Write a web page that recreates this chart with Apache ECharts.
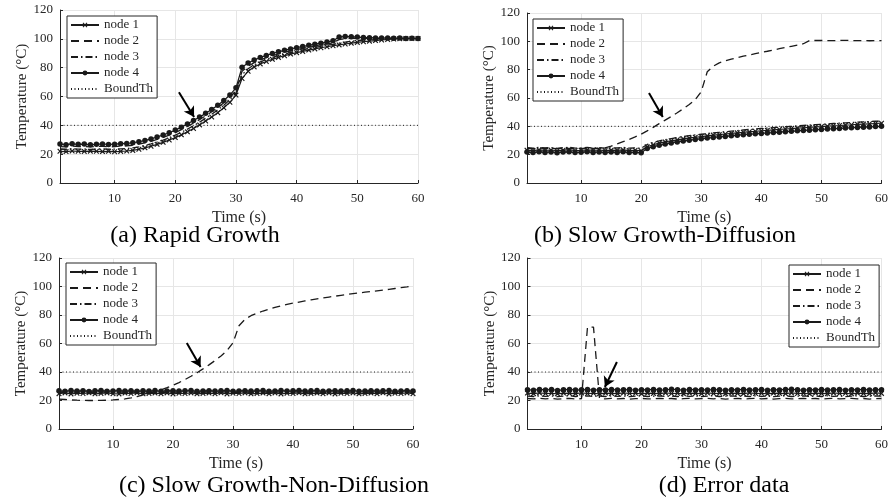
<!DOCTYPE html>
<html><head><meta charset="utf-8">
<script src="https://cdn.jsdelivr.net/npm/echarts@6/dist/echarts.min.js"></script>
<style>html,body{margin:0;padding:0;background:#fff}#c{width:891px;height:502px}</style>
</head><body><div id="c"></div>
<script>
// ---------- data ----------
const time = [1,2,3,4,5,6,7,8,9,10,11,12,13,14,15,16,17,18,19,20,21,22,23,24,25,26,27,28,29,30,
  31,32,33,34,35,36,37,38,39,40,41,42,43,44,45,46,47,48,49,50,51,52,53,54,55,56,57,58,59,60];
const xTicks = [10,20,30,40,50,60];
const seriesNames = ['node 1','node 2','node 3','node 4','BoundTh'];
const captions = ['(a) Rapid Growth','(b) Slow Growth-Diffusion','(c) Slow Growth-Non-Diffusion','(d) Error data'];
const boundTh = 40;

const a_node1 = [22.0,21.8,22.2,22.0,21.9,22.1,22.0,21.8,22.0,21.7,21.9,22.2,
  22.6,23.4,24.4,25.5,26.8,28.2,29.8,31.5,
  33.4,35.5,37.8,40.3,43.0,45.8,48.8,52.2,56.0,61.0,
  72.5,77.5,80.5,82.6,84.3,85.8,87.1,88.3,89.4,90.4,
  91.3,92.2,93.0,93.8,94.5,95.2,95.8,96.4,97.0,97.5,
  98.0,98.4,98.8,99.2,99.6,99.9,100.1,100.2,100.3,100.2];
const a_node2 = [25.3,25.0,25.6,25.2,25.4,25.0,25.3,25.5,25.1,25.2,25.6,25.7,
  26.2,26.9,27.8,28.9,30.2,31.6,33.2,35.0,
  37.0,39.2,41.5,44.0,46.6,49.4,52.4,55.7,59.5,64.0,
  77.5,81.0,83.5,85.3,86.9,88.3,89.5,90.6,91.6,92.5,
  93.4,94.2,95.0,95.8,96.5,97.3,99.5,100.2,100.4,100.4,
  100.3,100.3,100.2,100.3,100.2,100.3,100.2,100.2,100.3,100.2];
const a_node3 = [23.6,23.4,23.8,23.5,23.6,23.3,23.5,23.7,23.4,23.5,23.7,23.9,
  24.4,25.1,26.0,27.1,28.4,29.8,31.4,33.2,
  35.2,37.4,39.7,42.2,44.9,47.7,50.7,54.0,57.8,62.5,
  75.0,79.3,82.0,84.0,85.6,87.1,88.3,89.5,90.5,91.5,
  92.4,93.2,94.0,94.8,95.5,96.2,97.0,97.7,98.3,98.8,
  99.2,99.5,99.8,100.0,100.1,100.2,100.2,100.3,100.2,100.2];
const a_node4 = [27.0,26.6,27.2,26.8,27.0,26.5,26.8,27.1,26.7,26.9,27.3,
  27.4,27.9,28.6,29.5,30.6,31.9,33.3,34.9,36.7,
  38.7,41.0,43.3,45.7,48.3,51.0,54.0,57.2,61.0,66.0,
  80.3,83.2,85.3,87.0,88.5,89.8,91.0,92.0,93.0,93.9,
  94.7,95.5,96.3,97.0,97.8,98.6,101.3,101.6,101.5,101.2,
  100.9,100.8,100.6,100.5,100.6,100.4,100.5,100.3,100.4,100.2];

const b_node1 = [23.2,22.9,23.4,23.0,23.3,22.8,23.2,23.5,22.9,23.1,
  23.4,23.0,23.3,22.9,23.2,23.0,23.4,22.9,23.1,22.8,
  25.6,27.0,28.1,29.0,29.8,30.5,31.2,31.8,32.3,32.8,
  33.3,33.8,34.2,34.6,35.0,35.4,35.8,36.2,36.5,36.9,
  37.2,37.5,37.8,38.1,38.4,38.7,39.0,39.3,39.6,39.8,
  40.1,40.4,40.6,40.9,41.1,41.4,41.6,41.8,42.0,42.2];
const b_node2 = [24.5,24.3,24.6,24.4,24.5,24.2,24.6,24.4,24.5,24.3,
  24.6,24.5,24.4,24.8,26.0,27.6,29.2,30.8,32.5,34.5,
  36.8,39.3,41.9,44.4,46.9,49.6,52.4,55.4,58.8,64.5,
  78.5,82.5,84.8,86.2,87.4,88.5,89.5,90.4,91.3,92.2,
  93.0,93.9,94.8,95.7,96.5,97.3,98.3,100.5,100.6,100.6,
  100.5,100.5,100.6,100.7,100.6,100.5,100.5,100.4,100.5,100.5];
const b_node3 = [24.9,24.6,25.1,24.7,25.0,24.5,24.9,25.2,24.6,24.8,
  25.1,24.7,25.0,24.6,24.9,24.7,25.1,24.6,24.8,24.5,
  27.2,28.6,29.7,30.6,31.4,32.1,32.8,33.4,33.9,34.4,
  34.9,35.4,35.8,36.2,36.6,37.0,37.4,37.8,38.1,38.5,
  38.8,39.1,39.4,39.7,40.0,40.3,40.6,40.9,41.2,41.4,
  41.7,42.0,42.2,42.5,42.7,43.0,43.2,43.4,43.6,43.8];
const b_node4 = [21.8,21.5,22.0,21.6,21.9,21.4,21.8,22.0,21.5,21.7,
  22.0,21.6,21.9,21.5,21.8,21.6,22.0,21.5,21.7,21.3,
  24.3,25.6,26.6,27.5,28.3,29.0,29.6,30.2,30.7,31.2,
  31.7,32.1,32.5,32.9,33.3,33.7,34.1,34.4,34.7,35.0,
  35.3,35.6,35.9,36.2,36.5,36.8,37.1,37.3,37.6,37.8,
  38.1,38.3,38.5,38.8,39.0,39.2,39.4,39.6,39.8,40.0];

const c_node1 = [24.8,25.3,24.6,25.1,24.9,25.4,24.7,25.0,25.3,24.8,
  24.6,25.2,24.9,25.4,24.7,25.0,25.2,24.8,25.3,24.6,
  25.1,24.9,25.3,24.7,25.0,25.2,24.8,25.4,24.6,25.1,
  24.9,25.3,24.7,25.0,25.2,24.8,25.3,24.6,25.1,24.9,
  25.4,24.7,25.0,25.2,24.8,25.3,24.6,25.1,24.9,25.3,
  24.7,25.0,25.2,24.8,25.4,24.6,25.1,24.9,25.3,24.8];
const c_node2 = [21.0,20.7,20.4,20.2,20.1,20.0,20.0,20.1,20.2,20.4,
  20.7,21.1,21.8,22.8,24.0,25.1,26.2,27.5,29.0,30.7,
  32.6,34.7,37.0,39.5,42.2,45.0,48.0,51.3,55.0,60.5,
  72.5,77.0,79.5,81.3,82.8,84.1,85.3,86.4,87.4,88.3,
  89.1,89.9,90.6,91.3,92.0,92.6,93.2,93.8,94.4,95.0,
  95.5,96.0,96.5,97.0,97.5,98.0,98.6,99.2,99.8,100.5];
const c_node3 = [25.9,25.6,26.1,25.7,26.0,25.5,25.9,26.2,25.6,25.8,
  26.1,25.7,26.0,25.6,25.9,25.7,26.1,25.6,25.8,26.0,
  25.7,25.9,26.1,25.6,25.8,26.0,25.7,25.9,26.2,25.6,
  25.8,26.0,25.7,25.9,26.1,25.6,25.8,26.1,25.7,25.9,
  26.2,25.7,25.9,26.1,25.6,25.8,26.0,25.7,25.9,26.1,
  25.6,25.8,26.0,25.7,25.9,26.1,25.6,25.8,26.0,25.7];
const c_node4 = [26.8,26.5,27.0,26.6,26.9,26.4,26.8,27.1,26.5,26.7,
  27.0,26.6,26.9,26.5,26.8,26.6,27.0,26.5,26.7,26.9,
  26.6,26.8,27.0,26.5,26.7,26.9,26.6,26.8,27.1,26.5,
  26.7,26.9,26.6,26.8,27.0,26.5,26.7,27.0,26.6,26.8,
  27.1,26.6,26.8,27.0,26.5,26.7,26.9,26.6,26.8,27.0,
  26.5,26.7,26.9,26.6,26.8,27.0,26.5,26.7,26.9,26.6];

const d_node1 = [25.2,24.8,25.3,24.9,25.1,24.7,25.2,25.0,24.8,25.3,
  24.9,25.1,24.7,25.2,25.0,24.8,25.3,24.9,25.1,24.7,
  25.2,25.0,24.8,25.3,24.9,25.1,24.7,25.2,25.0,24.8,
  25.3,24.9,25.1,24.7,25.2,25.0,24.8,25.3,24.9,25.1,
  24.7,25.2,25.0,24.8,25.3,24.9,25.1,24.7,25.2,25.0,
  24.8,25.3,24.9,25.1,24.7,25.2,25.0,24.8,25.3,25.0];
const d_node2 = [21.4,21.1,21.5,21.2,21.4,21.0,21.3,21.5,21.1,21.3,
  71.5,71.5,21.4,21.1,21.5,21.2,21.4,21.0,21.3,21.5,
  21.1,21.3,21.5,21.2,21.4,21.0,21.3,21.5,21.1,21.3,
  21.5,21.2,21.4,21.0,21.3,21.5,21.1,21.3,21.5,21.2,
  21.4,21.0,21.3,21.5,21.1,21.3,21.5,21.2,21.4,21.0,
  21.3,21.5,21.1,21.3,21.5,21.2,21.4,21.0,21.3,21.4];
const d_node3 = [23.1,22.8,23.3,22.9,23.2,22.7,23.1,23.3,22.8,23.0,
  23.2,22.9,23.1,22.8,23.3,22.9,23.2,22.7,23.1,23.3,
  22.8,23.0,23.2,22.9,23.1,22.8,23.3,22.9,23.2,22.7,
  23.1,23.3,22.8,23.0,23.2,22.9,23.1,22.8,23.3,22.9,
  23.2,22.7,23.1,23.3,22.8,23.0,23.2,22.9,23.1,22.8,
  23.3,22.9,23.2,22.7,23.1,23.3,22.8,23.0,23.2,23.0];
const d_node4 = [27.6,27.2,27.8,27.4,27.7,27.1,27.5,27.8,27.3,27.5,
  27.7,27.2,27.6,27.4,27.8,27.3,27.5,27.7,27.2,27.6,
  27.4,27.8,27.3,27.5,27.9,27.6,27.2,27.8,27.4,27.6,
  27.3,27.7,27.5,27.2,27.6,27.4,27.8,27.3,27.5,27.7,
  27.2,27.6,27.4,27.8,27.9,27.5,27.2,27.6,27.4,27.8,
  27.3,27.5,27.7,27.2,27.6,27.4,27.8,27.3,27.5,27.6];

// arrow annotations (start, end) in data space
const arrowA = [[20.6, 63.0], [23.1, 45.8]];
const arrowB = [[21.3, 63.5], [23.6, 46.6]];
const arrowC = [[22.3, 60.4], [24.6, 43.5]];
const arrowD = [[15.9, 47.0], [13.9, 29.5]];

// ---------- layout / style ----------
const FONT = '"Liberation Serif","Times New Roman",serif';
const INK = '#262626';
const LINE = '#1a1a1a';
const panels = [
  {grid:{left:60, top:10, width:358, height:173}, legend:{left:67, top:16}, cap:[195,235.5],
   nodes:[a_node1,a_node2,a_node3,a_node4], arrow:arrowA},
  {grid:{left:527, top:13, width:355, height:170}, legend:{left:533, top:19}, cap:[665,235.5],
   nodes:[b_node1,b_node2,b_node3,b_node4], arrow:arrowB},
  {grid:{left:59, top:258, width:354, height:171}, legend:{left:66, top:263}, cap:[274,486],
   nodes:[c_node1,c_node2,c_node3,c_node4], arrow:arrowC},
  {grid:{left:527.5, top:258, width:356, height:171}, legend:{left:789, top:265}, cap:[724,486],
   nodes:[d_node1,d_node2,d_node3,d_node4], arrow:arrowD}
];
const X_SYMBOL = 'path://M0,1.5L1.5,0L5,3.5L8.5,0L10,1.5L6.5,5L10,8.5L8.5,10L5,6.5L1.5,10L0,8.5L3.5,5Z';
const nodeStyles = [
  {lineStyle:{type:'solid', width:1.2}, symbol:X_SYMBOL, symbolSize:5.5},
  {lineStyle:{type:[8,5], width:1.3}, symbol:'none'},
  {lineStyle:{type:[7,3,1.5,3], width:1.3}, symbol:'none'},
  {lineStyle:{type:'solid', width:1.2}, symbol:'circle', symbolSize:5.5}
];
const HIDE = {color:'rgba(0,0,0,0)', borderColor:'rgba(0,0,0,0)', borderWidth:0, opacity:0};
const legendData = [
  {name:'node 1'},
  {name:'node 2', itemStyle:HIDE},
  {name:'node 3', itemStyle:HIDE},
  {name:'node 4'},
  {name:'BoundTh', itemStyle:HIDE}
];

const option = {animation:false, backgroundColor:'#fff', grid:[], xAxis:[], yAxis:[], legend:[], series:[], graphic:[]};
panels.forEach((p, i) => {
  option.grid.push(Object.assign({containLabel:false}, p.grid));
  option.xAxis.push({
    gridIndex:i, type:'value', min:1, max:60,
    name:'Time (s)', nameLocation:'middle', nameGap:27,
    nameTextStyle:{fontFamily:FONT, fontSize:16, color:INK},
    axisLine:{show:true, onZero:false, lineStyle:{color:INK, width:1}},
    axisTick:{show:true, inside:true, length:3, customValues:xTicks, lineStyle:{color:INK}},
    axisLabel:{customValues:xTicks, fontFamily:FONT, fontSize:13, color:INK, margin:9},
    splitLine:{show:true, lineStyle:{color:'#e6e6e6', width:1}}
  });
  option.yAxis.push({
    gridIndex:i, type:'value', min:0, max:120, interval:20,
    name:'Temperature (°C)', nameLocation:'middle', nameGap:30,
    nameTextStyle:{fontFamily:FONT, fontSize:15, color:INK},
    axisLine:{show:true, lineStyle:{color:INK, width:1}},
    axisTick:{show:true, inside:true, length:3, lineStyle:{color:INK}},
    axisLabel:{fontFamily:FONT, fontSize:13, color:INK, margin:7},
    splitLine:{show:true, lineStyle:{color:'#e6e6e6', width:1}}
  });
  option.legend.push({
    orient:'vertical', left:p.legend.left, top:p.legend.top, data:legendData,
    itemWidth:28, itemHeight:6, itemGap:2, padding:[2,4,2,3],
    borderColor:INK, borderWidth:1, backgroundColor:'#fff', selectedMode:false,
    textStyle:{fontFamily:FONT, fontSize:13, color:INK, lineHeight:14}
  });
  p.nodes.forEach((vals, k) => {
    const st = nodeStyles[k];
    option.series.push({
      type:'line', name:seriesNames[k], xAxisIndex:i, yAxisIndex:i,
      data: time.map((t, j) => [t, vals[j]]),
      symbol: st.symbol, symbolSize: st.symbolSize || 4, showSymbol: st.symbol !== 'none',
      lineStyle: Object.assign({color:LINE}, st.lineStyle),
      itemStyle:{color:LINE, borderWidth:0}, silent:true, z:3
    });
  });
  option.series.push({
    type:'line', name:'BoundTh', xAxisIndex:i, yAxisIndex:i,
    data: time.map(t => [t, boundTh]), symbol:'none', showSymbol:false,
    lineStyle:{color:LINE, type:[1,2.5], width:1}, itemStyle:{color:LINE}, silent:true, z:2,
    markLine:{
      silent:true, symbol:['none','arrow'], symbolSize:[9,10], label:{show:false},
      lineStyle:{type:'solid', color:'#000', width:2},
      data:[[{coord:p.arrow[0]},{coord:p.arrow[1]}]]
    }
  });
  option.graphic.push({
    type:'text', x:p.cap[0], y:p.cap[1], silent:true,
    style:{text:captions[i], font:'24px ' + FONT, fill:'#000', align:'center', verticalAlign:'middle', textAlign:'center', textVerticalAlign:'middle'}
  });
});
const chart = echarts.init(document.getElementById('c'), null, {renderer:'canvas'});
chart.setOption(option);
</script>
</body></html>
